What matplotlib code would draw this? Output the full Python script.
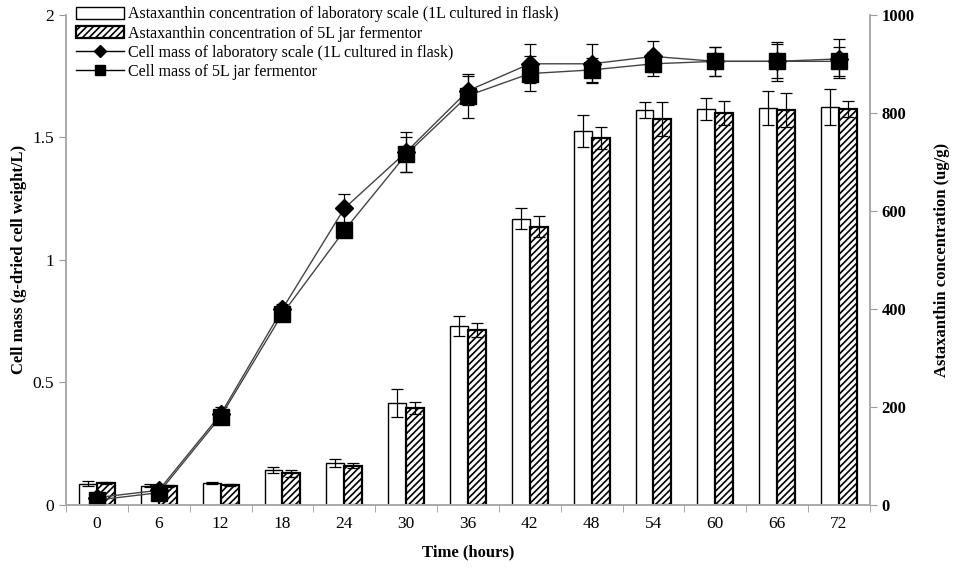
import numpy as np
import matplotlib
import matplotlib.pyplot as plt
from matplotlib.lines import Line2D
from matplotlib.patches import Patch

matplotlib.use('Agg')
plt.rcParams['font.family'] = ['Liberation Serif', 'DejaVu Serif']
plt.rcParams['hatch.linewidth'] = 1.2

################################################################
hours = ["0", "6", "12", "18", "24", "30", "36", "42", "48", "54", "60", "66", "72"]
asta_lab = [43, 39, 45, 71, 86, 208, 365, 584, 763, 806, 808, 810, 812]
asta_lab_err = [5, 3, 2, 6, 8, 29, 20, 22, 33, 16, 22, 35, 37]
asta_jar = [45, 39, 41, 65, 80, 198, 357, 568, 749, 788, 800, 806, 808]
asta_jar_err = [2, 2, 2, 7, 5, 12, 14, 22, 22, 35, 25, 35, 16]
mass_lab = [0.03, 0.06, 0.37, 0.80, 1.21, 1.44, 1.69, 1.80, 1.80, 1.83, 1.81, 1.81, 1.82]
mass_lab_err = [0.01, 0.01, 0.03, 0.02, 0.06, 0.08, 0.06, 0.08, 0.08, 0.065, 0.06, 0.08, 0.08]
mass_jar = [0.02, 0.05, 0.36, 0.78, 1.12, 1.43, 1.67, 1.76, 1.775, 1.80, 1.81, 1.81, 1.81]
mass_jar_err = [0.01, 0.01, 0.02, 0.02, 0.02, 0.07, 0.09, 0.07, 0.05, 0.05, 0.06, 0.07, 0.06]
################################################################

fig = plt.figure(figsize=(9.57, 5.68), dpi=100)
ax = fig.add_axes([0.069, 0.111, 0.840, 0.863])
tax = ax.twinx()
x = np.arange(len(hours))
w = 0.29

# bars on the right axis
tax.bar(x - w/2, asta_lab, w, color="white", edgecolor="black", lw=1.0,
        yerr=asta_lab_err, error_kw=dict(ecolor="black", elinewidth=0.9, capsize=4, capthick=0.9))
tax.bar(x + w/2, asta_jar, w, color="white", edgecolor="black", lw=1.6, hatch="/////",
        yerr=asta_jar_err, error_kw=dict(ecolor="black", elinewidth=0.9, capsize=4, capthick=0.9))
tax.set_ylim(0, 1000)
tax.set_yticks([0, 200, 400, 600, 800, 1000])
tax.set_ylabel("Astaxanthin concentration (ug/g)", fontsize=12, fontweight="bold", labelpad=14)
for t in tax.get_yticklabels():
    t.set_fontweight("bold")

# lines on the left axis, drawn above the bars
ax.set_zorder(tax.get_zorder() + 1)
ax.patch.set_visible(False)
ax.errorbar(x, mass_lab, yerr=mass_lab_err, color="#444444", lw=1.0, marker="D", ms=9,
            mfc="black", mec="black", ecolor="black", elinewidth=0.9, capsize=4, capthick=0.9)
ax.errorbar(x, mass_jar, yerr=mass_jar_err, color="#444444", lw=1.0, marker="s", ms=11,
            mfc="black", mec="black", ecolor="black", elinewidth=0.9, capsize=4, capthick=0.9)
ax.set_ylim(0, 2)
ax.set_yticks([0, 0.5, 1, 1.5, 2])
ax.set_yticklabels(["0", "0.5", "1", "1.5", "2"])
ax.set_ylabel("Cell mass (g-dried cell weight/L)", fontsize=12, fontweight="bold", labelpad=4)
ax.set_xlim(-0.5, len(hours) - 0.5)
ax.set_xticks(x)
ax.set_xticklabels(hours)
ax.set_xticks(np.arange(len(hours) + 1) - 0.5, minor=True)
ax.tick_params(axis="x", which="major", length=0, labelsize=12.5, pad=8)
ax.tick_params(axis="x", which="minor", length=5, color="#999999")
ax.set_xlabel("Time (hours)", fontsize=12, fontweight="bold", labelpad=9)
ax.tick_params(axis="y", labelsize=12.5, length=5, color="#999999")
tax.tick_params(axis="y", labelsize=12, length=5, color="#999999")

for a in (ax, tax):
    a.spines["top"].set_visible(False)
    for s in ("left", "right", "bottom"):
        a.spines[s].set_color("#aaaaaa")
        a.spines[s].set_linewidth(1.2)

handles = [
    Patch(facecolor="white", edgecolor="black", lw=1.0),
    Patch(facecolor="white", edgecolor="black", lw=1.6, hatch="/////"),
    Line2D([], [], color="black", lw=1.0, marker="D", ms=6, mfc="black"),
    Line2D([], [], color="black", lw=1.0, marker="s", ms=7, mfc="black"),
]
labels = [
    "Astaxanthin concentration of laboratory scale (1L cultured in flask)",
    "Astaxanthin concentration of 5L jar fermentor",
    "Cell mass of laboratory scale (1L cultured in flask)",
    "Cell mass of 5L jar fermentor",
]
ax.legend(handles, labels, loc="upper left", bbox_to_anchor=(0.005, 1.03), frameon=False,
          fontsize=11.5, handlelength=3.0, handleheight=0.8, handletextpad=0.2,
          labelspacing=0.2, borderaxespad=0)

fig.savefig("out.png", dpi=100)
